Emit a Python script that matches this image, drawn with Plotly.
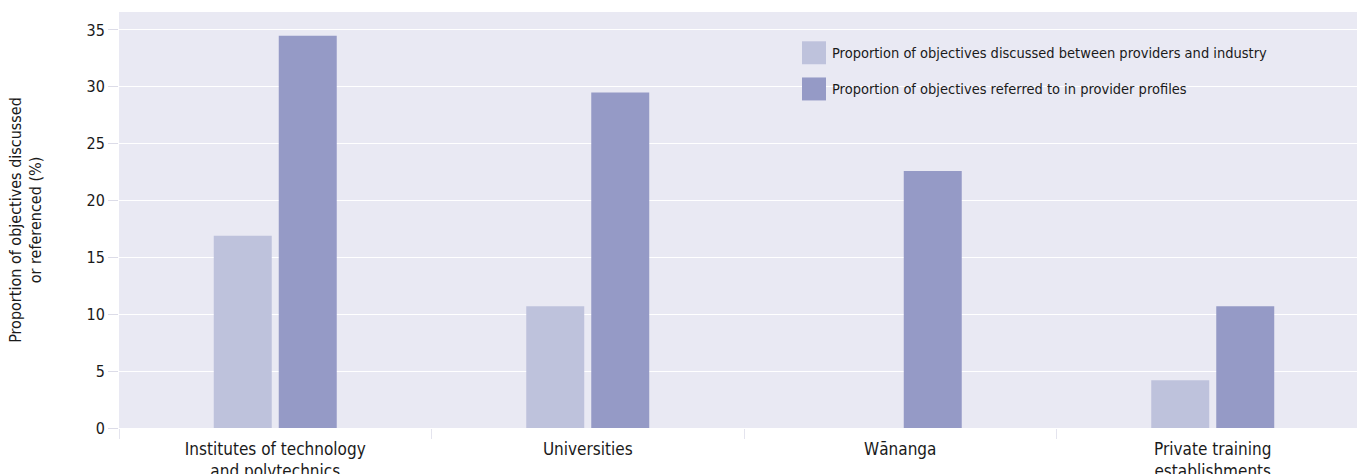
import plotly.graph_objects as go

categories = ["Institutes of technology<br>and polytechnics", "Universities", "Wānanga",
              "Private training<br>establishments"]
series_names = ["Proportion of objectives discussed between providers and industry",
                "Proportion of objectives referred to in provider profiles"]
discussed = [16.9, 10.7, 0, 4.2]
referred = [34.5, 29.5, 22.6, 10.7]
y_ticks = [0, 5, 10, 15, 20, 25, 30, 35]

FONT = "Liberation Sans Narrow, DejaVu Sans Condensed, sans-serif"
LIGHT = "#bec2dc"
DARK = "#959ac6"
BG = "#e9e9f3"

fig = go.Figure()
fig.add_trace(go.Bar(x=categories, y=discussed, name=series_names[0], marker_color=LIGHT,
                     marker_line_width=0, showlegend=False))
fig.add_trace(go.Bar(x=categories, y=referred, name=series_names[1], marker_color=DARK,
                     marker_line_width=0, showlegend=False))

# custom legend with large square swatches
legend_y = [0.902, 0.815]
for i, (name, col) in enumerate(zip(series_names, [LIGHT, DARK])):
    fig.add_shape(type="rect", xref="paper", yref="paper",
                  x0=0.5517, x1=0.5711, y0=legend_y[i] - 0.0276, y1=legend_y[i] + 0.0276,
                  fillcolor=col, line_width=0)
    fig.add_annotation(text=name, xref="paper", yref="paper", x=0.5743, y=legend_y[i],
                       xanchor="left", yanchor="middle", showarrow=False,
                       font=dict(family=FONT, size=14.5, color="#1a1a1a"))

fig.update_layout(
    width=1357, height=474,
    margin=dict(l=119, r=0, t=12, b=46),
    paper_bgcolor="white", plot_bgcolor=BG,
    barmode="group", bargap=0.584, bargroupgap=0.108,
    font=dict(family=FONT, size=15, color="#1a1a1a"),
    xaxis=dict(range=[-0.5, 3.4616], tickson="boundaries", ticks="outside", ticklen=10,
               tickcolor="#e4e4ee", showgrid=False, tickfont=dict(size=17), automargin=False,
               ticklabelstandoff=9),
    yaxis=dict(range=[0, 36.58], tickvals=y_ticks, ticks="outside", ticklen=10,
               tickcolor="#dcdce8", gridcolor="white", gridwidth=1, zeroline=False,
               tickfont=dict(size=16), automargin=False,
               title=dict(text="Proportion of objectives discussed<br>or referenced (%)",
                          font=dict(size=16), standoff=40)),
)

fig.write_html("out.html")
